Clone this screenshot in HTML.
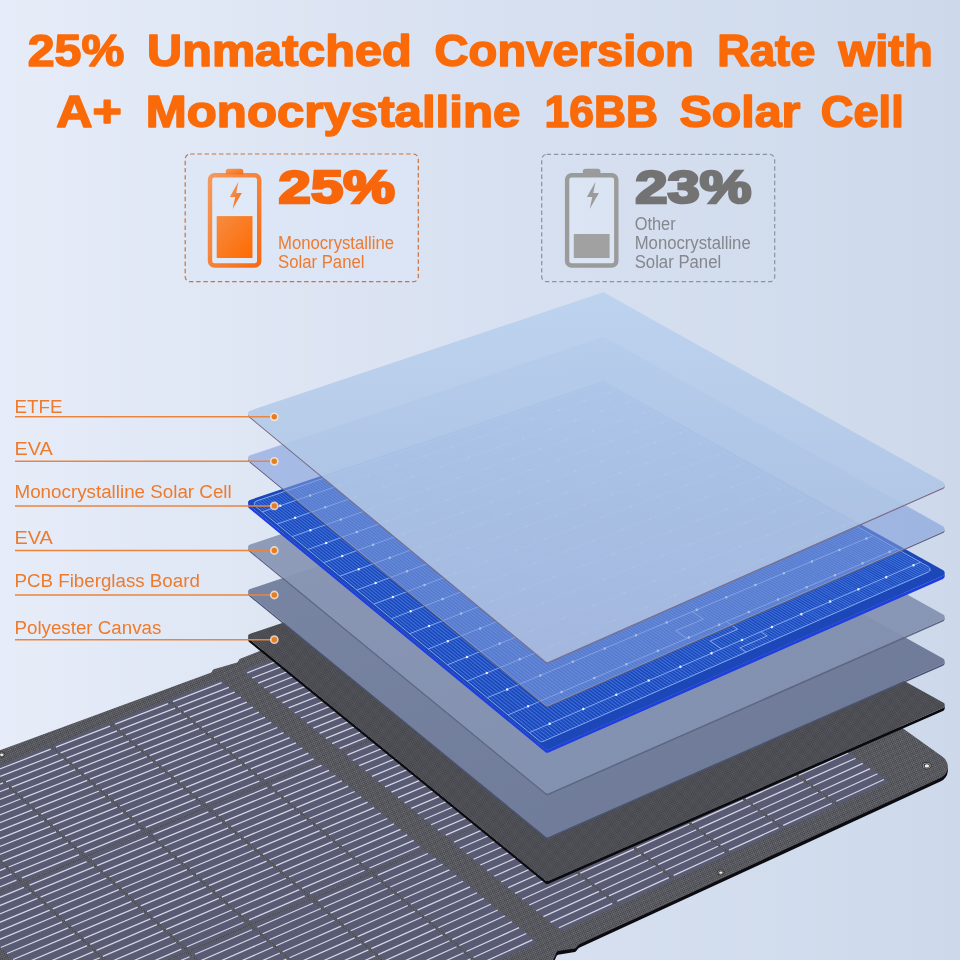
<!DOCTYPE html>
<html lang="en"><head><meta charset="utf-8"><title>25% Unmatched Conversion Rate</title>
<style>html,body{margin:0;padding:0;background:#d8e1f1}body{width:960px;height:960px;overflow:hidden}svg{display:block}</style>
</head><body>
<svg width="960" height="960" viewBox="0 0 960 960">
<defs>
<linearGradient id="bg" x1="0" y1="0" x2="1" y2="0"><stop offset="0" stop-color="#e6ecf8"/><stop offset=".5" stop-color="#d8e1f1"/><stop offset="1" stop-color="#cdd9eb"/></linearGradient>
<linearGradient id="l1" x1="0" y1="0" x2="0" y2="1"><stop offset="0" stop-color="#bad1ee"/><stop offset=".45" stop-color="#b1c8e7"/><stop offset="1" stop-color="#abbddf"/></linearGradient>
<linearGradient id="l4" x1="0" y1="0" x2="1" y2="1"><stop offset="0" stop-color="#8b98b6"/><stop offset="1" stop-color="#8290b0"/></linearGradient>
<linearGradient id="l5" x1="0" y1="0" x2="1" y2="1"><stop offset="0" stop-color="#7a87a4"/><stop offset="1" stop-color="#6c7896"/></linearGradient>
<linearGradient id="ob" x1="0" y1="0" x2="1" y2="1"><stop offset="0" stop-color="#f59a5c"/><stop offset="1" stop-color="#f96a10"/></linearGradient>
<linearGradient id="of" x1="0" y1="0" x2="1" y2="1"><stop offset="0" stop-color="#f68c42"/><stop offset="1" stop-color="#ff6a00"/></linearGradient>
<pattern id="fab" width="2.6" height="2.6" patternUnits="userSpaceOnUse" patternTransform="rotate(-22)"><rect width="2.6" height="2.6" fill="#3b3b41"/><rect width="1.3" height="1.3" fill="#75767d"/><rect x="1.3" y="1.3" width="1.3" height="1.3" fill="#75767d"/></pattern>
<pattern id="fab2" width="2.4" height="2.4" patternUnits="userSpaceOnUse" patternTransform="rotate(-22)"><rect width="2.4" height="2.4" fill="#3e3e44"/><rect width="1.2" height="1.2" fill="#5c5c64"/><rect x="1.2" y="1.2" width="1.2" height="1.2" fill="#5c5c64"/></pattern>
</defs>
<rect width="960" height="960" fill="url(#bg)"/>

<path d="M-5.0 755.6L210.7 676.3A1.0 1.0 0 0 0 211.2 676.0L213.3 673.2A1.0 1.0 0 0 1 213.8 672.8L237.1 666.1A1.0 1.0 0 0 0 237.7 665.7L239.6 662.7A1.0 1.0 0 0 1 240.1 662.3L604.0 518.0L942.9 760.7A12.0 12.0 0 0 1 940.9 781.3L579.2 947.8A2.0 2.0 0 0 0 578.5 948.3L576.0 951.3A2.0 2.0 0 0 1 574.8 952.0L558.1 954.7A2.0 2.0 0 0 0 556.6 955.9L551.0 968.6L-5.0 968.6Z" fill="#0c0c10"/>
<path d="M-5.0 752.0L210.7 672.7A1.0 1.0 0 0 0 211.2 672.4L213.3 669.6A1.0 1.0 0 0 1 213.8 669.2L237.1 662.5A1.0 1.0 0 0 0 237.7 662.1L239.6 659.1A1.0 1.0 0 0 1 240.1 658.7L604.0 514.4L942.9 757.1A12.0 12.0 0 0 1 940.9 777.7L579.2 944.2A2.0 2.0 0 0 0 578.5 944.7L576.0 947.7A2.0 2.0 0 0 1 574.8 948.4L558.1 951.1A2.0 2.0 0 0 0 556.6 952.3L551.0 965.0L-5.0 965.0Z" fill="url(#fab)"/>
<path d="M244.9 670.1L295.2 650.6L298.6 651.1L394.5 727.7L394.2 729.8L343.3 750.6L339.7 750.1L244.5 672.1ZM344.9 752.0L395.9 731.1L399.4 731.7L501.4 813.2L501.3 815.4L449.6 837.7L446.0 837.1L344.6 754.1ZM451.4 839.1L503.0 816.8L506.7 817.4L615.4 904.2L615.3 906.6L563.1 930.5L559.2 929.9L451.2 841.4ZM301.1 648.3L349.8 629.4L353.1 629.9L449.7 705.2L449.5 707.2L400.2 727.4L396.7 726.8L300.8 650.2ZM401.9 728.7L451.2 708.5L454.7 709.0L557.3 789.1L557.2 791.2L507.3 812.8L503.7 812.2L401.7 730.7ZM509.1 814.2L559.0 792.6L562.6 793.2L671.9 878.4L671.9 880.7L621.5 903.8L617.7 903.2L509.0 816.4ZM355.5 627.2L403.3 608.6L406.6 609.1L503.8 683.1L503.7 685.1L455.4 704.8L451.9 704.3L355.3 629.1ZM457.0 706.1L505.4 686.3L508.8 686.9L612.1 765.4L612.0 767.6L563.1 788.7L559.5 788.1L456.9 708.2ZM564.9 790.1L613.8 768.9L617.4 769.5L727.3 853.1L727.3 855.4L677.9 878.0L674.2 877.4L564.8 792.2ZM409.0 606.4L455.9 588.2L459.2 588.7L557.0 661.4L556.9 663.3L509.4 682.7L506.0 682.2L408.8 608.3ZM511.1 684.0L558.6 664.6L562.0 665.1L665.8 742.3L665.8 744.4L617.8 765.1L614.3 764.5L511.0 686.0ZM619.6 766.4L667.6 745.7L671.1 746.2L781.6 828.3L781.7 830.5L733.2 852.7L729.5 852.1L619.6 768.5ZM461.4 586.0L507.5 568.2L510.8 568.6L609.1 640.1L609.0 642.0L562.5 661.0L559.1 660.5L461.3 587.9ZM564.2 662.3L610.7 643.2L614.2 643.7L718.5 719.6L718.5 721.6L671.5 741.9L667.9 741.4L564.1 664.2ZM673.3 743.2L720.3 722.9L723.9 723.4L834.8 804.0L834.9 806.2L787.4 827.9L783.7 827.3L673.3 745.3ZM513.0 566.0L558.2 548.5L561.4 548.9L660.3 619.2L660.3 621.1L614.6 639.7L611.2 639.2L512.8 567.8ZM616.3 641.0L662.0 622.3L665.4 622.8L770.2 697.3L770.2 699.3L724.1 719.2L720.6 718.7L616.2 642.9ZM725.9 720.5L772.0 700.6L775.6 701.1L886.9 780.2L887.1 782.4L840.5 803.6L836.9 803.1L725.9 722.5ZM170.6 699.0L218.2 680.5L221.5 681.0L316.5 759.6L316.3 761.7L268.0 781.4L264.6 780.8L170.3 700.9ZM269.6 782.8L317.9 763.0L321.3 763.6L422.4 847.3L422.3 849.5L373.3 870.6L369.8 870.0L269.4 784.9ZM375.1 872.1L424.0 850.9L427.6 851.6L535.4 940.8L535.4 943.1L485.8 965.8L482.1 965.1L374.9 874.3ZM112.8 721.4L164.6 701.3L168.1 701.8L262.3 781.7L261.9 783.9L209.4 805.4L205.8 804.8L112.3 723.5ZM211.0 806.8L263.6 785.3L267.1 785.8L367.5 870.9L367.2 873.3L313.9 896.3L310.1 895.7L210.6 809.0ZM315.6 897.8L368.9 874.7L372.6 875.3L479.7 966.2L479.5 968.6L425.5 993.3L421.6 992.7L315.3 900.1ZM53.7 744.4L106.5 723.8L110.0 724.4L203.4 805.8L203.0 808.0L149.3 829.9L145.7 829.3L53.2 746.5ZM150.9 831.3L204.6 809.4L208.2 810.0L307.7 896.7L307.4 899.1L252.9 922.6L249.2 922.0L150.5 833.6ZM254.7 924.1L309.1 900.6L312.9 901.2L419.2 993.8L418.9 996.3L363.7 1021.6L359.8 1020.9L254.3 926.5ZM-6.6 767.8L47.3 746.9L50.8 747.4L143.3 830.3L142.8 832.6L88.1 854.9L84.4 854.4L-7.2 769.9ZM89.7 856.4L144.4 834.0L148.1 834.6L246.7 923.0L246.3 925.4L190.7 949.4L187.0 948.8L89.2 858.7ZM192.4 951.0L248.0 927.0L251.8 927.6L357.3 1022.1L357.0 1024.7L300.5 1050.5L296.6 1049.8L192.0 953.4ZM-68.1 791.7L-13.2 770.3L-9.6 770.9L82.0 855.4L81.4 857.7L25.6 880.5L21.9 879.9L-68.8 793.8ZM27.1 882.0L83.0 859.1L86.7 859.7L184.4 949.9L184.0 952.3L127.2 976.9L123.4 976.2L26.6 884.3ZM128.9 978.4L185.7 953.9L189.5 954.5L294.0 1051.0L293.7 1053.6L236.0 1080.0L232.0 1079.3L128.4 981.0ZM-130.9 816.0L-74.8 794.2L-71.2 794.8L19.4 880.9L18.8 883.3L-38.2 906.6L-41.9 906.0L-131.6 818.3ZM-36.7 908.1L20.4 884.8L24.0 885.4L120.8 977.3L120.3 979.8L62.3 1004.9L58.5 1004.2L-37.3 910.5ZM64.0 1006.5L122.0 981.4L125.8 982.1L229.4 1080.5L228.9 1083.2L170.0 1110.1L166.0 1109.4L63.4 1009.1Z" fill="#585b73"/>
<path d="M247.3 672.8L298.7 652.8M252.2 678.1L305.9 657.2M258.2 683.1L311.9 662.0M264.2 688.0L318.0 666.9M270.3 693.0L324.1 671.7M276.3 697.9L330.2 676.6M282.4 702.9L336.4 681.5M288.6 707.9L342.5 686.5M294.7 713.0L348.7 691.4M300.9 718.0L354.9 696.4M307.1 723.1L361.2 701.4M313.3 728.2L367.4 706.4M319.5 733.3L373.7 711.4M325.8 738.4L380.0 716.4M332.1 743.6L386.4 721.5M339.6 748.3L391.6 727.0M347.5 754.8L399.6 733.5M352.8 760.5L407.2 738.1M359.1 765.7L413.6 743.3M365.6 771.0L420.1 748.4M372.0 776.3L426.6 753.6M378.5 781.6L433.1 758.8M385.0 786.9L439.6 764.0M391.5 792.2L446.2 769.3M398.0 797.6L452.7 774.5M404.6 802.9L459.4 779.8M411.2 808.3L466.0 785.1M417.8 813.8L472.7 790.4M424.4 819.2L479.3 795.8M431.1 824.7L486.1 801.1M437.8 830.1L492.8 806.5M445.7 835.1L498.4 812.4M454.2 842.1L507.0 819.3M459.8 848.2L515.0 824.2M466.6 853.8L521.8 829.7M473.5 859.3L528.7 835.2M480.3 865.0L535.6 840.7M487.2 870.6L542.5 846.3M494.2 876.3L549.5 851.8M501.1 882.0L556.5 857.4M508.1 887.7L563.5 863.0M515.1 893.4L570.5 868.6M522.1 899.2L577.6 874.3M529.2 905.0L584.7 880.0M536.3 910.8L591.8 885.7M543.4 916.6L599.0 891.4M550.5 922.4L606.2 897.1M558.9 927.8L612.2 903.4M303.6 650.9L353.3 631.6M308.5 656.1L360.5 635.9M314.6 661.0L366.6 640.6M320.6 665.8L372.7 645.4M326.7 670.7L378.8 650.2M332.9 675.6L385.0 655.0M339.0 680.5L391.2 659.8M345.2 685.4L397.4 664.7M351.4 690.4L403.6 669.5M357.6 695.3L409.9 674.4M363.8 700.3L416.2 679.3M370.1 705.3L422.5 684.2M376.4 710.3L428.8 689.1M382.7 715.4L435.2 694.1M389.0 720.4L441.5 699.1M396.5 725.0L446.8 704.5M404.6 731.4L454.9 710.8M409.9 737.0L462.5 715.4M416.3 742.2L469.0 720.4M422.8 747.3L475.5 725.5M429.2 752.5L482.0 730.6M435.8 757.7L488.5 735.7M442.3 762.9L495.1 740.8M448.9 768.1L501.7 746.0M455.4 773.4L508.3 751.1M462.1 778.7L515.0 756.3M468.7 784.0L521.7 761.5M475.4 789.3L528.4 766.8M482.0 794.6L535.1 772.0M488.8 800.0L541.9 777.3M495.5 805.4L548.6 782.6M503.4 810.3L554.3 788.3M512.0 817.1L562.9 795.1M517.7 823.1L570.9 799.9M524.5 828.5L577.8 805.3M531.4 834.0L584.7 810.7M538.3 839.5L591.7 816.1M545.2 845.1L598.7 821.5M552.2 850.6L605.7 827.0M559.2 856.2L612.7 832.5M566.2 861.8L619.8 838.0M573.3 867.4L626.8 843.5M580.3 873.1L634.0 849.1M587.5 878.7L641.1 854.6M594.6 884.4L648.3 860.2M601.7 890.2L655.5 865.8M608.9 895.9L662.7 871.5M617.3 901.1L668.8 877.6M358.1 629.7L406.9 610.7M363.0 634.9L414.0 615.0M369.1 639.6L420.2 619.6M375.3 644.4L426.3 624.3M381.4 649.2L432.5 629.0M387.6 654.0L438.7 633.8M393.8 658.8L445.0 638.5M400.0 663.6L451.2 643.3M406.2 668.5L457.5 648.0M412.5 673.4L463.8 652.8M418.8 678.3L470.1 657.6M425.1 683.2L476.5 662.5M431.4 688.1L482.8 667.3M437.8 693.0L489.2 672.2M444.1 698.0L495.6 677.1M451.6 702.5L501.0 682.4M459.7 708.8L509.1 688.6M465.1 714.3L516.7 693.1M471.6 719.4L523.2 698.1M478.1 724.4L529.8 703.0M484.6 729.5L536.3 708.0M491.2 734.6L542.9 713.0M497.7 739.7L549.5 718.1M504.3 744.9L556.2 723.1M511.0 750.0L562.8 728.2M517.6 755.2L569.5 733.3M524.3 760.4L576.3 738.4M531.0 765.6L583.0 743.5M537.7 770.9L589.8 748.7M544.5 776.1L596.6 753.9M551.3 781.4L603.4 759.0M559.2 786.2L609.1 764.7M567.8 792.9L617.8 771.3M573.6 798.8L625.8 776.1M580.5 804.1L632.7 781.4M587.4 809.5L639.7 786.7M594.3 814.9L646.7 792.0M601.3 820.4L653.7 797.3M608.3 825.8L660.7 802.7M615.4 831.3L667.8 808.1M622.4 836.8L674.9 813.5M629.5 842.3L682.0 818.9M636.6 847.9L689.1 824.3M643.8 853.4L696.3 829.8M650.9 859.0L703.5 835.3M658.1 864.6L710.8 840.8M665.4 870.2L718.0 846.3M673.7 875.4L724.2 852.3M411.5 608.9L459.4 590.3M416.6 614.0L466.6 594.5M422.7 618.7L472.8 599.0M428.9 623.3L479.0 603.7M435.1 628.0L485.2 608.3M441.3 632.8L491.5 612.9M447.5 637.5L497.8 617.6M453.8 642.2L504.0 622.3M460.0 647.0L510.4 626.9M466.3 651.8L516.7 631.7M472.7 656.6L523.0 636.4M479.0 661.4L529.4 641.1M485.4 666.3L535.8 645.9M491.8 671.1L542.3 650.7M498.2 676.0L548.7 655.5M505.7 680.5L554.1 660.7M513.9 686.7L562.3 666.8M519.3 692.0L569.9 671.2M525.8 697.0L576.5 676.1M532.3 702.0L583.0 681.0M538.9 707.0L589.6 685.9M545.5 712.0L596.3 690.8M552.1 717.0L602.9 695.8M558.8 722.1L609.6 700.7M565.4 727.1L616.3 705.7M572.1 732.2L623.0 710.7M578.8 737.3L629.8 715.7M585.6 742.4L636.6 720.8M592.3 747.6L643.4 725.8M599.1 752.8L650.2 730.9M606.0 757.9L657.0 736.0M613.9 762.7L662.9 741.6M622.6 769.3L671.6 748.0M628.4 775.0L679.6 752.7M635.3 780.2L686.5 757.9M642.3 785.5L693.5 763.1M649.3 790.8L700.6 768.3M656.3 796.2L707.6 773.6M663.3 801.5L714.7 778.8M670.4 806.9L721.8 784.1M677.5 812.3L728.9 789.4M684.6 817.7L736.1 794.7M691.8 823.1L743.2 800.1M698.9 828.6L750.5 805.4M706.1 834.1L757.7 810.8M713.4 839.6L765.0 816.2M720.6 845.1L772.3 821.6M729.0 850.1L778.5 827.6M464.0 588.5L511.1 570.2M469.1 593.5L518.3 574.3M475.3 598.1L524.5 578.8M481.5 602.7L530.7 583.4M487.7 607.3L537.0 587.9M494.0 611.9L543.3 592.5M500.2 616.6L549.6 597.0M506.5 621.3L555.9 601.6M512.8 626.0L562.2 606.2M519.2 630.7L568.6 610.9M525.5 635.4L575.0 615.5M531.9 640.1L581.4 620.2M538.3 644.9L587.9 624.9M544.8 649.7L594.3 629.6M551.2 654.4L600.8 634.3M558.8 658.8L606.3 639.4M567.0 664.9L614.5 645.4M572.4 670.2L622.1 649.8M579.0 675.1L628.7 654.5M585.6 679.9L635.3 659.3M592.2 684.8L642.0 664.2M598.8 689.8L648.6 669.0M605.4 694.7L655.3 673.9M612.1 699.7L662.0 678.7M618.8 704.6L668.7 683.6M625.6 709.6L675.5 688.6M632.3 714.7L682.3 693.5M639.1 719.7L689.1 698.4M645.9 724.7L695.9 703.4M652.7 729.8L702.8 708.4M659.6 734.9L709.7 713.4M667.5 739.6L715.6 718.9M676.2 746.0L724.3 725.2M682.1 751.6L732.3 729.8M689.1 756.8L739.3 734.9M696.1 762.0L746.3 740.0M703.1 767.2L753.4 745.1M710.1 772.5L760.5 750.3M717.2 777.7L767.6 755.5M724.3 783.0L774.7 760.6M731.5 788.3L781.9 765.8M738.6 793.6L789.1 771.1M745.8 798.9L796.3 776.3M753.0 804.3L803.5 781.6M760.2 809.7L810.8 786.8M767.5 815.1L818.1 792.2M774.8 820.5L825.4 797.5M783.2 825.4L831.7 803.3M515.6 568.5L561.8 550.5M520.7 573.4L569.0 554.5M526.9 577.9L575.2 559.0M533.2 582.4L581.5 563.4M539.4 586.9L587.8 567.9M545.7 591.5L594.1 572.4M552.0 596.1L600.4 576.9M558.3 600.7L606.8 581.4M564.7 605.3L613.2 585.9M571.1 609.9L619.6 590.5M577.5 614.5L626.0 595.0M583.9 619.2L632.5 599.6M590.3 623.9L638.9 604.2M596.8 628.6L645.4 608.8M603.3 633.3L651.9 613.5M610.8 637.6L657.5 618.5M619.1 643.6L665.7 624.4M624.6 648.7L673.4 628.7M631.2 653.5L680.0 633.4M637.8 658.3L686.6 638.1M644.4 663.1L693.3 642.9M651.1 668.0L700.0 647.6M657.8 672.8L706.7 652.4M664.5 677.7L713.4 657.2M671.2 682.6L720.2 662.0M678.0 687.5L727.0 666.8M684.8 692.4L733.8 671.7M691.6 697.4L740.7 676.5M698.4 702.3L747.5 681.4M705.3 707.3L754.4 686.3M712.2 712.3L761.3 691.2M720.1 716.9L767.2 696.6M728.9 723.2L776.0 702.8M734.8 728.8L784.1 707.4M741.8 733.8L791.1 712.4M748.8 738.9L798.1 717.4M755.9 744.1L805.2 722.4M763.0 749.2L812.3 727.5M770.1 754.4L819.5 732.5M777.2 759.5L826.6 737.6M784.4 764.7L833.8 742.7M791.6 769.9L841.0 747.9M798.8 775.2L848.3 753.0M806.0 780.4L855.6 758.2M813.3 785.7L862.8 763.4M820.6 791.0L870.2 768.6M827.9 796.3L877.5 773.8M836.3 801.2L883.9 779.5M173.0 701.7L221.7 682.7M177.9 707.1L228.8 687.3M183.8 712.1L234.7 692.2M189.8 717.2L240.8 697.2M195.8 722.3L246.8 702.2M201.8 727.4L252.9 707.2M207.8 732.5L258.9 712.2M213.9 737.6L265.0 717.3M220.0 742.8L271.2 722.4M226.1 748.0L277.3 727.5M232.2 753.1L283.5 732.6M238.4 758.4L289.7 737.7M244.6 763.6L295.9 742.8M250.8 768.8L302.2 748.0M257.0 774.1L308.4 753.2M264.3 779.0L313.6 758.8M272.2 785.7L321.6 765.4M277.4 791.5L329.0 770.3M283.8 796.8L335.4 775.5M290.1 802.2L341.8 780.8M296.5 807.6L348.2 786.1M302.9 813.0L354.7 791.5M309.3 818.5L361.1 796.8M315.8 824.0L367.6 802.2M322.3 829.4L374.2 807.6M328.8 835.0L380.7 813.0M335.3 840.5L387.3 818.5M341.9 846.0L393.9 823.9M348.4 851.6L400.5 829.4M355.1 857.2L407.2 834.9M361.7 862.8L413.8 840.4M369.5 868.0L419.4 846.5M377.9 875.1L427.9 853.5M383.5 881.3L435.8 858.6M390.3 887.0L442.6 864.2M397.0 892.8L449.4 869.9M403.8 898.5L456.3 875.5M410.7 904.3L463.1 881.2M417.5 910.1L470.0 886.9M424.4 916.0L477.0 892.7M431.3 921.8L483.9 898.4M438.3 927.7L490.9 904.2M445.2 933.6L497.9 910.0M452.2 939.6L505.0 915.8M459.3 945.5L512.0 921.7M466.3 951.5L519.1 927.6M473.4 957.5L526.3 933.5M481.7 963.0L532.3 939.9M115.2 724.2L168.1 703.6M119.9 729.7L175.2 708.1M125.8 734.9L181.2 713.2M131.7 740.0L187.1 718.2M137.6 745.2L193.1 723.3M143.6 750.4L199.1 728.4M149.6 755.6L205.2 733.5M155.6 760.8L211.2 738.7M161.6 766.1L217.3 743.8M167.7 771.3L223.4 749.0M173.7 776.6L229.5 754.2M179.8 781.9L235.7 759.4M186.0 787.3L241.9 764.7M192.1 792.6L248.1 769.9M198.3 798.0L254.3 775.2M205.7 802.9L259.4 781.0M213.5 809.7L267.3 787.7M218.6 815.7L274.7 792.6M224.9 821.1L281.1 797.9M231.2 826.6L287.4 803.3M237.5 832.1L293.8 808.7M243.8 837.6L300.2 814.2M250.2 843.2L306.6 819.6M256.6 848.8L313.1 825.1M263.0 854.4L319.6 830.6M269.5 860.0L326.1 836.1M276.0 865.6L332.6 841.6M282.5 871.3L339.1 847.2M289.0 877.0L345.7 852.8M295.6 882.7L352.3 858.4M302.1 888.4L359.0 864.0M310.0 893.6L364.4 870.2M318.3 900.9L372.9 877.3M323.8 907.3L380.8 882.5M330.5 913.1L387.5 888.2M337.2 918.9L394.3 894.0M344.0 924.8L401.1 899.7M350.7 930.7L407.9 905.5M357.6 936.6L414.8 911.4M364.4 942.6L421.7 917.2M371.3 948.6L428.6 923.1M378.1 954.6L435.5 928.9M385.1 960.6L442.5 934.9M392.0 966.6L449.5 940.8M399.0 972.7L456.5 946.8M406.0 978.8L463.6 952.7M413.0 984.9L470.6 958.8M421.3 990.5L476.6 965.3M56.0 747.2L110.0 726.2M60.6 752.9L117.1 730.8M66.5 758.1L123.0 736.0M72.3 763.3L128.9 741.1M78.2 768.6L134.8 746.3M84.1 773.9L140.8 751.5M90.0 779.2L146.8 756.7M96.0 784.5L152.8 761.9M102.0 789.9L158.8 767.2M108.0 795.2L164.8 772.5M114.0 800.6L170.9 777.8M120.0 806.0L177.0 783.1M126.1 811.5L183.1 788.4M132.2 816.9L189.3 793.8M138.3 822.4L195.4 799.2M145.7 827.4L200.4 805.0M153.4 834.3L208.3 811.9M158.4 840.4L215.7 816.8M164.6 846.0L222.0 822.3M170.9 851.6L228.3 827.8M177.2 857.2L234.6 833.3M183.5 862.8L241.0 838.8M189.8 868.5L247.4 844.4M196.1 874.1L253.8 850.0M202.5 879.8L260.2 855.6M208.9 885.6L266.6 861.2M215.3 891.3L273.1 866.8M221.8 897.1L279.6 872.5M228.2 902.9L286.1 878.2M234.7 908.7L292.7 883.9M241.3 914.6L299.3 889.6M249.1 919.9L304.7 895.9M257.4 927.3L313.0 903.2M262.7 933.8L320.9 908.5M269.4 939.7L327.6 914.3M276.0 945.7L334.3 920.2M282.7 951.7L341.1 926.1M289.5 957.7L347.9 932.0M296.2 963.7L354.7 937.9M303.0 969.8L361.5 943.9M309.8 975.9L368.4 949.9M316.7 982.0L375.2 955.9M323.5 988.2L382.2 961.9M330.4 994.3L389.1 968.0M337.3 1000.5L396.1 974.0M344.3 1006.8L403.1 980.1M351.3 1013.0L410.1 986.3M359.5 1018.7L416.0 993.0M-4.3 770.6L50.7 749.2M0.2 776.4L57.8 754.0M6.0 781.8L63.6 759.2M11.8 787.1L69.5 764.4M17.6 792.5L75.3 769.7M23.4 797.8L81.2 775.0M29.3 803.3L87.2 780.3M35.2 808.7L93.1 785.7M41.1 814.1L99.1 791.0M47.1 819.6L105.1 796.4M53.0 825.1L111.1 801.8M59.0 830.6L117.1 807.2M65.0 836.1L123.2 812.6M71.1 841.7L129.3 818.1M77.1 847.3L135.4 823.6M84.4 852.4L140.3 829.6M92.1 859.5L148.1 836.5M97.0 865.6L155.5 841.6M103.2 871.3L161.7 847.2M109.4 877.0L168.0 852.8M115.6 882.7L174.2 858.4M121.8 888.5L180.5 864.0M128.1 894.2L186.9 869.7M134.4 900.0L193.2 875.4M140.7 905.9L199.6 881.1M147.0 911.7L206.0 886.8M153.4 917.6L212.4 892.6M159.8 923.4L218.8 898.3M166.2 929.4L225.3 904.1M172.6 935.3L231.8 910.0M179.1 941.2L238.3 915.8M186.9 946.7L243.6 922.2M195.1 954.3L251.9 929.7M200.4 960.8L259.8 935.0M207.0 966.9L266.4 941.0M213.6 973.0L273.1 947.0M220.2 979.1L279.8 953.0M226.9 985.3L286.5 959.0M233.6 991.4L293.3 965.1M240.3 997.6L300.0 971.1M247.1 1003.8L306.9 977.2M253.8 1010.1L313.7 983.4M260.6 1016.4L320.6 989.5M267.5 1022.7L327.4 995.7M274.3 1029.0L334.4 1001.9M281.2 1035.3L341.3 1008.1M288.2 1041.7L348.3 1014.4M296.4 1047.5L354.0 1021.2M-65.9 794.6L-9.7 772.7M-61.4 800.5L-2.7 777.6M-55.7 805.9L3.1 782.9M-50.0 811.3L8.9 788.2M-44.2 816.8L14.7 793.6M-38.4 822.3L20.5 799.0M-32.6 827.8L26.4 804.4M-26.8 833.3L32.3 809.8M-21.0 838.9L38.2 815.3M-15.1 844.5L44.1 820.8M-9.2 850.1L50.1 826.3M-3.3 855.7L56.1 831.8M2.7 861.3L62.1 837.3M8.7 867.0L68.1 842.9M14.7 872.7L74.2 848.5M21.9 877.9L79.0 854.6M29.6 885.1L86.7 861.7M34.4 891.4L94.1 866.9M40.5 897.2L100.2 872.5M46.6 903.0L106.4 878.2M52.7 908.8L112.6 884.0M58.9 914.7L118.9 889.7M65.1 920.6L125.1 895.5M71.3 926.5L131.4 901.3M77.6 932.4L137.7 907.1M83.9 938.4L144.0 913.0M90.2 944.3L150.4 918.8M96.5 950.3L156.8 924.7M102.8 956.4L163.2 930.6M109.2 962.4L169.6 936.6M115.6 968.5L176.1 942.5M123.4 974.1L181.3 949.1M131.5 981.8L189.6 956.7M136.7 988.5L197.4 962.2M143.2 994.7L204.0 968.2M149.8 1000.9L210.6 974.3M156.3 1007.2L217.2 980.4M162.9 1013.4L223.9 986.6M169.6 1019.7L230.6 992.8M176.2 1026.0L237.3 999.0M182.9 1032.4L244.0 1005.2M189.6 1038.8L250.8 1011.4M196.4 1045.2L257.6 1017.7M203.2 1051.6L264.4 1024.0M210.0 1058.0L271.3 1030.4M216.8 1064.5L278.2 1036.7M223.7 1071.0L285.1 1043.1M231.9 1077.0L290.8 1050.1M-128.7 819.0L-71.4 796.7M-124.3 825.0L-64.4 801.6M-118.7 830.5L-58.7 807.1M-113.0 836.1L-53.0 812.5M-107.3 841.7L-47.2 818.0M-101.6 847.3L-41.4 823.5M-95.9 852.9L-35.6 829.0M-90.1 858.5L-29.8 834.5M-84.3 864.2L-23.9 840.1M-78.5 869.9L-18.1 845.7M-72.7 875.6L-12.2 851.3M-66.8 881.3L-6.3 856.9M-60.9 887.0L-0.3 862.5M-55.0 892.8L5.7 868.2M-49.1 898.6L11.6 873.9M-41.8 903.9L16.4 880.2M-34.3 911.3L24.0 887.4M-29.6 917.7L31.3 892.6M-23.6 923.6L37.4 898.4M-17.5 929.5L43.6 904.2M-11.4 935.5L49.7 910.1M-5.3 941.5L55.9 916.0M0.8 947.5L62.1 921.8M7.0 953.5L68.3 927.8M13.1 959.5L74.5 933.7M19.3 965.6L80.8 939.6M25.6 971.7L87.1 945.6M31.8 977.8L93.4 951.6M38.1 984.0L99.8 957.7M44.4 990.2L106.2 963.7M50.8 996.4L112.6 969.8M58.5 1002.0L117.7 976.5M66.5 1009.9L125.8 984.2M71.6 1016.8L133.6 989.8M78.1 1023.1L140.1 996.0M84.6 1029.4L146.7 1002.3M91.1 1035.8L153.3 1008.5M97.6 1042.2L159.9 1014.8M104.2 1048.6L166.5 1021.1M110.8 1055.1L173.2 1027.4M117.4 1061.5L179.8 1033.8M124.0 1068.0L186.6 1040.1M130.7 1074.6L193.3 1046.5M137.4 1081.1L200.1 1053.0M144.2 1087.7L206.9 1059.4M150.9 1094.4L213.7 1065.9M157.7 1101.0L220.6 1072.4M165.9 1107.1L226.1 1079.6" stroke="#d3d4e0" stroke-width="1.25" fill="none"/>
<ellipse cx="926.7" cy="765.7" rx="4.4" ry="3.3" fill="#9b9b96" stroke="#26262a" stroke-width=".8"/>
<ellipse cx="926.7" cy="765.7" rx="3.0" ry="2.2" fill="#303034"/>
<ellipse cx="926.9" cy="765.9" rx="2.2" ry="1.6" fill="#f0f0f2"/>
<ellipse cx="720.6" cy="872.4" rx="3.4" ry="2.6" fill="#9b9b96" stroke="#26262a" stroke-width=".8"/>
<ellipse cx="720.6" cy="872.4" rx="2.3" ry="1.7" fill="#303034"/>
<ellipse cx="720.8" cy="872.6" rx="1.7" ry="1.2" fill="#f0f0f2"/>
<ellipse cx="1.5" cy="754.5" rx="3.4" ry="2.6" fill="#9b9b96" stroke="#26262a" stroke-width=".8"/>
<ellipse cx="1.5" cy="754.5" rx="2.3" ry="1.7" fill="#303034"/>
<ellipse cx="1.7" cy="754.7" rx="1.7" ry="1.2" fill="#f0f0f2"/>
<path d="M944.7 705.4L944.4 706.5L943.8 707.4L942.9 708.0L548.6 880.8L548.1 881.0L547.5 881.0L547.0 881.0L546.4 880.9L545.9 880.7L545.5 880.4L249.1 638.9L248.4 638.1L248.1 637.1L248.1 640.1L248.4 641.1L249.1 641.9L545.5 883.4L545.9 883.7L546.4 883.9L547.0 884.0L547.5 884.0L548.1 884.0L548.6 883.8L942.9 711.0L943.8 710.4L944.4 709.5L944.7 708.4Z" fill="#0b0b0e"/>
<path d="M249.1 638.9L248.4 638.1L248.1 637.1L248.1 636.0L248.4 635.0L249.1 634.2L250.1 633.7L602.5 515.1L602.9 515.0L603.3 515.0L603.7 515.0L604.1 515.1L604.5 515.2L604.9 515.4L943.1 702.6L944.0 703.3L944.5 704.3L944.7 705.4L944.4 706.5L943.8 707.4L942.9 708.0L548.6 880.8L548.1 881.0L547.5 881.0L547.0 881.0L546.4 880.9L545.9 880.7L545.5 880.4Z" fill="url(#fab2)"/>
<path d="M944.7 661.3L944.4 662.4L943.8 663.3L942.9 663.9L548.6 837.0L548.1 837.2L547.5 837.2L547.0 837.2L546.4 837.1L545.9 836.9L545.5 836.6L249.1 594.3L248.4 593.5L248.1 592.5L248.1 594.3L248.4 595.3L249.1 596.1L545.5 838.4L545.9 838.7L546.4 838.9L547.0 839.0L547.5 839.0L548.1 839.0L548.6 838.8L942.9 665.7L943.8 665.1L944.4 664.2L944.7 663.1Z" fill="#4a5470"/>
<path d="M249.1 594.3L248.4 593.5L248.1 592.5L248.1 591.4L248.4 590.4L249.1 589.6L250.1 589.1L602.5 470.6L602.9 470.5L603.3 470.5L603.7 470.5L604.1 470.6L604.5 470.7L604.9 470.9L943.1 658.5L944.0 659.2L944.5 660.2L944.7 661.3L944.4 662.4L943.8 663.3L942.9 663.9L548.6 837.0L548.1 837.2L547.5 837.2L547.0 837.2L546.4 837.1L545.9 836.9L545.5 836.6Z" fill="url(#l5)"/>
<path d="M944.7 617.2L944.4 618.3L943.8 619.2L942.9 619.8L548.6 793.2L548.1 793.4L547.5 793.4L547.0 793.4L546.4 793.3L545.9 793.1L545.5 792.8L249.1 549.7L248.4 548.9L248.1 547.9L248.1 549.7L248.4 550.7L249.1 551.5L545.5 794.6L545.9 794.9L546.4 795.1L547.0 795.2L547.5 795.2L548.1 795.2L548.6 795.0L942.9 621.6L943.8 621.0L944.4 620.1L944.7 619.0Z" fill="#5d6784"/>
<path d="M249.1 549.7L248.4 548.9L248.1 547.9L248.1 546.8L248.4 545.8L249.1 545.0L250.1 544.5L602.5 426.1L602.9 426.0L603.3 426.0L603.7 426.0L604.1 426.1L604.5 426.2L604.9 426.4L943.1 614.4L944.0 615.1L944.5 616.1L944.7 617.2L944.4 618.3L943.8 619.2L942.9 619.8L548.6 793.2L548.1 793.4L547.5 793.4L547.0 793.4L546.4 793.3L545.9 793.1L545.5 792.8Z" fill="url(#l4)" fill-opacity=".94"/>
<path d="M944.7 573.1L944.4 574.2L943.8 575.1L942.9 575.7L548.6 749.4L548.1 749.6L547.5 749.6L547.0 749.6L546.4 749.5L545.9 749.3L545.5 749.0L249.1 505.1L248.4 504.3L248.0 503.3L248.0 506.5L248.4 507.5L249.1 508.3L545.5 752.2L545.9 752.5L546.4 752.7L547.0 752.8L547.5 752.8L548.1 752.8L548.6 752.6L942.9 578.9L943.8 578.3L944.4 577.4L944.7 576.3Z" fill="#1d3fe0"/>
<path d="M249.1 505.1L248.4 504.3L248.0 503.3L248.0 502.2L248.4 501.2L249.1 500.4L250.0 499.9L602.5 381.6L602.9 381.5L603.3 381.5L603.7 381.5L604.1 381.6L604.5 381.7L604.9 381.9L943.2 570.3L944.0 571.0L944.5 572.0L944.7 573.1L944.4 574.2L943.8 575.1L942.9 575.7L548.6 749.4L548.1 749.6L547.5 749.6L547.0 749.6L546.4 749.5L545.9 749.3L545.5 749.0Z" fill="#1c47b8"/>
<path d="M253.8 501.9L544.2 741.0M256.4 501.0L547.1 739.7M259.0 500.1L550.1 738.4M261.6 499.3L553.0 737.1M264.1 498.4L556.0 735.8M266.7 497.5L558.9 734.5M269.3 496.6L561.8 733.2M271.9 495.8L564.8 731.9M274.4 494.9L567.7 730.6M277.0 494.0L570.6 729.4M279.5 493.2L573.5 728.1M282.1 492.3L576.4 726.8M284.7 491.4L579.3 725.5M287.2 490.6L582.2 724.3M289.7 489.7L585.1 723.0M292.3 488.8L587.9 721.7M294.8 488.0L590.8 720.5M297.4 487.1L593.7 719.2M299.9 486.3L596.6 717.9M302.4 485.4L599.4 716.7M304.9 484.5L602.3 715.4M307.4 483.7L605.1 714.2M310.0 482.8L608.0 712.9M312.5 482.0L610.8 711.7M315.0 481.1L613.7 710.4M317.5 480.3L616.5 709.2M320.0 479.4L619.3 707.9M322.5 478.6L622.1 706.7M325.0 477.7L625.0 705.4M327.5 476.9L627.8 704.2M330.0 476.0L630.6 703.0M332.4 475.2L633.4 701.7M334.9 474.4L636.2 700.5M337.4 473.5L639.0 699.3M339.9 472.7L641.8 698.0M342.3 471.8L644.5 696.8M344.8 471.0L647.3 695.6M347.3 470.2L650.1 694.4M349.7 469.3L652.9 693.2M352.2 468.5L655.6 691.9M354.6 467.7L658.4 690.7M357.1 466.8L661.1 689.5M359.5 466.0L663.9 688.3M362.0 465.2L666.6 687.1M364.4 464.3L669.4 685.9M366.9 463.5L672.1 684.7M369.3 462.7L674.9 683.5M371.7 461.9L677.6 682.3M374.1 461.0L680.3 681.1M376.6 460.2L683.0 679.9M379.0 459.4L685.7 678.7M381.4 458.6L688.4 677.5M383.8 457.7L691.2 676.3M386.2 456.9L693.9 675.1M388.6 456.1L696.6 673.9M391.0 455.3L699.2 672.8M393.4 454.5L701.9 671.6M395.8 453.7L704.6 670.4M398.2 452.8L707.3 669.2M400.6 452.0L710.0 668.0M403.0 451.2L712.6 666.9M405.4 450.4L715.3 665.7M407.8 449.6L718.0 664.5M410.1 448.8L720.6 663.4M412.5 448.0L723.3 662.2M414.9 447.2L725.9 661.0M417.3 446.4L728.6 659.9M419.6 445.6L731.2 658.7M422.0 444.8L733.8 657.5M424.3 444.0L736.5 656.4M426.7 443.2L739.1 655.2M429.0 442.4L741.7 654.1M431.4 441.6L744.3 652.9M433.7 440.8L746.9 651.8M436.1 440.0L749.5 650.6M438.4 439.2L752.1 649.5M440.8 438.4L754.7 648.3M443.1 437.6L757.3 647.2M445.4 436.8L759.9 646.1M447.7 436.0L762.5 644.9M450.1 435.2L765.1 643.8M452.4 434.4L767.7 642.6M454.7 433.7L770.3 641.5M457.0 432.9L772.8 640.4M459.3 432.1L775.4 639.3M461.6 431.3L777.9 638.1M463.9 430.5L780.5 637.0M466.2 429.7L783.1 635.9M468.5 429.0L785.6 634.8M470.8 428.2L788.2 633.6M473.1 427.4L790.7 632.5M475.4 426.6L793.2 631.4M477.7 425.8L795.8 630.3M480.0 425.1L798.3 629.2M482.3 424.3L800.8 628.1M484.5 423.5L803.3 627.0M486.8 422.7L805.9 625.9M489.1 422.0L808.4 624.7M491.4 421.2L810.9 623.6M493.6 420.4L813.4 622.5M495.9 419.7L815.9 621.4M498.1 418.9L818.4 620.3M500.4 418.1L820.9 619.2M502.7 417.4L823.4 618.2M504.9 416.6L825.8 617.1M507.2 415.8L828.3 616.0M509.4 415.1L830.8 614.9M511.6 414.3L833.3 613.8M513.9 413.6L835.7 612.7M516.1 412.8L838.2 611.6M518.3 412.0L840.7 610.5M520.6 411.3L843.1 609.5M522.8 410.5L845.6 608.4M525.0 409.8L848.0 607.3M527.2 409.0L850.5 606.2M529.5 408.3L852.9 605.2M531.7 407.5L855.3 604.1M533.9 406.8L857.8 603.0M536.1 406.0L860.2 601.9M538.3 405.3L862.6 600.9M540.5 404.5L865.0 599.8M542.7 403.8L867.5 598.8M544.9 403.0L869.9 597.7M547.1 402.3L872.3 596.6M549.3 401.5L874.7 595.6M551.5 400.8L877.1 594.5M553.7 400.0L879.5 593.5M555.9 399.3L881.9 592.4M558.0 398.6L884.3 591.4M560.2 397.8L886.7 590.3M562.4 397.1L889.0 589.3M564.6 396.3L891.4 588.2M566.7 395.6L893.8 587.2M568.9 394.9L896.2 586.1M571.1 394.1L898.5 585.1M573.2 393.4L900.9 584.0M575.4 392.7L903.3 583.0M577.5 391.9L905.6 582.0M579.7 391.2L908.0 580.9M581.8 390.5L910.3 579.9M584.0 389.7L912.7 578.9M586.1 389.0L915.0 577.8M588.3 388.3L917.3 576.8M590.4 387.6L919.7 575.8M592.5 386.8L922.0 574.7M594.7 386.1L924.3 573.7M596.8 385.4L926.7 572.7M598.9 384.7L929.0 571.7M601.1 383.9L931.3 570.7" stroke="#4b82ea" stroke-width="1.05" stroke-opacity=".72" fill="none"/>
<path d="M262.2 511.9L616.0 390.4M277.0 524.1L633.2 400.2M292.2 536.6L650.8 410.1M307.7 549.5L668.8 420.2M323.7 562.6L687.2 430.6M340.0 576.1L706.0 441.2M356.8 590.0L725.2 452.0M374.0 604.1L744.9 463.2M391.6 618.7L765.0 474.5M409.7 633.7L785.6 486.2M428.3 649.0L806.8 498.1M447.5 664.8L828.4 510.3M467.1 681.1L850.6 522.8M487.3 697.7L873.3 535.6M508.1 714.9L896.6 548.8M529.5 732.5L920.5 562.2" stroke="#8fb3f3" stroke-width="1" stroke-opacity=".85" fill="none"/>
<path d="M280.2 505.7h.01M310.1 495.4h.01M339.6 485.3h.01M368.5 475.4h.01M397.0 465.6h.01M425.1 456.0h.01M452.7 446.5h.01M479.8 437.2h.01M506.6 428.0h.01M532.9 419.0h.01M558.9 410.1h.01M584.4 401.3h.01M609.6 392.7h.01M295.1 517.8h.01M325.3 507.3h.01M355.0 497.0h.01M384.1 486.8h.01M412.8 476.8h.01M441.1 467.0h.01M468.9 457.3h.01M496.2 447.8h.01M523.2 438.5h.01M549.7 429.2h.01M575.7 420.2h.01M601.4 411.2h.01M626.7 402.4h.01M310.4 530.2h.01M340.8 519.5h.01M370.7 508.9h.01M400.1 498.5h.01M429.0 488.3h.01M457.5 478.3h.01M485.5 468.4h.01M513.0 458.7h.01M540.1 449.2h.01M566.7 439.7h.01M593.0 430.5h.01M618.8 421.4h.01M644.3 412.4h.01M326.1 542.9h.01M356.8 531.9h.01M386.9 521.1h.01M416.5 510.5h.01M445.6 500.1h.01M474.3 489.9h.01M502.4 479.8h.01M530.1 469.9h.01M557.4 460.1h.01M584.2 450.5h.01M610.6 441.0h.01M636.6 431.7h.01M662.2 422.6h.01M342.2 555.9h.01M373.1 544.7h.01M403.4 533.7h.01M433.3 522.8h.01M462.6 512.2h.01M491.4 501.7h.01M519.8 491.4h.01M547.7 481.3h.01M575.1 471.3h.01M602.1 461.5h.01M628.7 451.8h.01M654.8 442.3h.01M680.6 433.0h.01M358.7 569.2h.01M389.8 557.8h.01M420.4 546.5h.01M450.4 535.4h.01M480.0 524.5h.01M509.0 513.8h.01M537.6 503.3h.01M565.6 492.9h.01M593.3 482.7h.01M620.4 472.7h.01M647.2 462.9h.01M673.4 453.2h.01M699.3 443.6h.01M375.6 582.9h.01M407.0 571.2h.01M437.8 559.6h.01M468.0 548.3h.01M497.8 537.2h.01M527.0 526.2h.01M555.8 515.5h.01M584.0 504.9h.01M611.8 494.5h.01M639.2 484.2h.01M666.1 474.2h.01M692.5 464.3h.01M718.5 454.5h.01M392.9 596.9h.01M424.5 584.9h.01M455.6 573.1h.01M486.1 561.5h.01M516.1 550.1h.01M545.5 538.9h.01M574.4 527.9h.01M602.9 517.1h.01M630.9 506.5h.01M658.4 496.0h.01M685.4 485.8h.01M712.0 475.6h.01M738.2 465.7h.01M410.7 611.3h.01M442.6 599.0h.01M473.9 586.9h.01M504.6 575.1h.01M534.8 563.4h.01M564.4 552.0h.01M593.6 540.7h.01M622.2 529.7h.01M650.3 518.8h.01M678.0 508.1h.01M705.2 497.6h.01M732.0 487.3h.01M758.3 477.1h.01M429.0 626.1h.01M461.1 613.5h.01M492.6 601.1h.01M523.6 589.0h.01M554.0 577.1h.01M583.8 565.3h.01M613.2 553.8h.01M642.0 542.5h.01M670.3 531.4h.01M698.1 520.5h.01M725.5 509.7h.01M752.4 499.2h.01M778.9 488.8h.01M447.8 641.3h.01M480.1 628.4h.01M511.9 615.7h.01M543.1 603.3h.01M573.7 591.1h.01M603.7 579.1h.01M633.3 567.3h.01M662.3 555.7h.01M690.8 544.3h.01M718.8 533.2h.01M746.3 522.2h.01M773.4 511.4h.01M799.9 500.8h.01M467.0 656.9h.01M499.7 643.6h.01M531.7 630.7h.01M563.1 617.9h.01M593.9 605.4h.01M624.2 593.1h.01M653.9 581.1h.01M683.1 569.2h.01M711.8 557.6h.01M739.9 546.2h.01M767.6 534.9h.01M794.8 523.9h.01M821.5 513.1h.01M486.8 672.9h.01M519.7 659.3h.01M552.0 646.0h.01M583.6 633.0h.01M614.7 620.1h.01M645.1 607.6h.01M675.1 595.2h.01M704.4 583.1h.01M733.3 571.2h.01M761.6 559.5h.01M789.5 548.0h.01M816.8 536.7h.01M843.7 525.6h.01M507.2 689.4h.01M540.3 675.5h.01M572.8 661.8h.01M604.7 648.4h.01M636.0 635.3h.01M666.7 622.4h.01M696.8 609.7h.01M726.3 597.3h.01M755.4 585.1h.01M783.9 573.2h.01M811.9 561.4h.01M839.4 549.9h.01M866.4 538.5h.01M528.1 706.3h.01M561.5 692.0h.01M594.3 678.0h.01M626.4 664.3h.01M657.9 650.8h.01M688.8 637.6h.01M719.1 624.7h.01M748.8 611.9h.01M778.0 599.5h.01M806.7 587.2h.01M834.9 575.2h.01M862.5 563.3h.01M889.6 551.7h.01M549.7 723.7h.01M583.3 709.1h.01M616.3 694.7h.01M648.7 680.6h.01M680.4 666.8h.01M711.5 653.3h.01M742.0 640.0h.01M771.9 626.9h.01M801.3 614.2h.01M830.1 601.6h.01M858.4 589.3h.01M886.2 577.2h.01M913.5 565.3h.01" stroke="#e6eeff" stroke-width="2.5" stroke-linecap="round" fill="none"/>
<path d="M255.4 506.2A3.0 3.0 0 0 1 256.3 501.1L601.9 383.6A3.0 3.0 0 0 1 604.3 383.9L928.4 566.7A3.0 3.0 0 0 1 928.1 572.1L542.9 741.5A3.0 3.0 0 0 1 539.8 741.1Z" stroke="#8db2f6" stroke-width=".9" fill="none"/>
<path d="M692.3 611.6L703.4 619.1L675.8 630.7L686.9 638.4M726.3 621.6L737.7 629.2L710.2 641.0L721.6 648.9M760.9 631.7L767.2 635.9L739.8 647.9L746.1 652.2" stroke="#b9cff8" stroke-width=".8" fill="none" stroke-opacity=".8"/>
<path d="M944.7 529.0L944.4 530.1L943.8 531.0L942.9 531.6L548.6 705.6L548.1 705.8L547.5 705.8L547.0 705.8L546.4 705.7L545.9 705.5L545.5 705.2L249.1 460.5L248.4 459.7L248.0 458.7L248.0 460.2L248.4 461.2L249.1 462.0L545.5 706.7L545.9 707.0L546.4 707.2L547.0 707.3L547.5 707.3L548.1 707.3L548.6 707.1L942.9 533.1L943.8 532.5L944.4 531.6L944.7 530.5Z" fill="#585a7c"/>
<path d="M249.1 460.5L248.4 459.7L248.0 458.7L248.0 457.6L248.4 456.6L249.1 455.8L250.0 455.3L602.5 337.1L602.9 337.0L603.3 337.0L603.7 337.0L604.1 337.1L604.5 337.2L604.9 337.4L943.2 526.2L944.0 526.9L944.5 527.9L944.7 529.0L944.4 530.1L943.8 531.0L942.9 531.6L548.6 705.6L548.1 705.8L547.5 705.8L547.0 705.8L546.4 705.7L545.9 705.5L545.5 705.2Z" fill="#809ddb" fill-opacity=".6"/>
<path d="M249.1 460.5L248.4 459.7L248.0 458.7L248.0 457.6L248.4 456.6L249.1 455.8L250.0 455.3L602.5 337.1L602.9 337.0L603.3 337.0L603.7 337.0L604.1 337.1L604.5 337.2L604.9 337.4L943.2 526.2L944.0 526.9L944.5 527.9L944.7 529.0L944.4 530.1L943.8 531.0L942.9 531.6L548.6 705.6L548.1 705.8L547.5 705.8L547.0 705.8L546.4 705.7L545.9 705.5L545.5 705.2Z" fill="none" stroke="#c9d6f3" stroke-opacity=".35" stroke-width="1"/>
<path d="M944.7 484.9L944.5 486.0L943.8 486.9L942.9 487.5L548.6 661.8L548.1 662.0L547.5 662.0L547.0 662.0L546.4 661.9L545.9 661.7L545.5 661.3L249.1 415.9L248.4 415.1L248.0 414.1L248.0 415.6L248.4 416.6L249.1 417.4L545.5 662.8L545.9 663.2L546.4 663.4L547.0 663.5L547.5 663.5L548.1 663.5L548.6 663.3L942.9 489.0L943.8 488.4L944.5 487.5L944.7 486.4Z" fill="#7d7088"/>
<path d="M249.1 415.9L248.4 415.1L248.0 414.1L248.0 413.0L248.4 412.0L249.1 411.2L250.0 410.7L602.5 292.6L602.9 292.5L603.3 292.5L603.7 292.5L604.1 292.6L604.5 292.7L604.9 292.9L943.2 482.1L944.0 482.8L944.6 483.8L944.7 484.9L944.5 486.0L943.8 486.9L942.9 487.5L548.6 661.8L548.1 662.0L547.5 662.0L547.0 662.0L546.4 661.9L545.9 661.7L545.5 661.3Z" fill="url(#l1)" fill-opacity=".9"/>
<g font-family="'Liberation Sans', sans-serif" font-size="17.6" fill="#ee7a2c">
<path d="M15 416.8H274" stroke="#e9853f" stroke-width="1.5"/>
<circle cx="274.3" cy="416.8" r="4.4" fill="#fbe9d8" fill-opacity=".8"/><circle cx="274.3" cy="416.8" r="2.7" fill="#e87d1e"/>
<text x="14.5" y="412.6" textLength="47.9" lengthAdjust="spacingAndGlyphs">ETFE</text>
<path d="M15 461.3H274" stroke="#e9853f" stroke-width="1.5"/>
<circle cx="274.3" cy="461.3" r="4.4" fill="#fbe9d8" fill-opacity=".8"/><circle cx="274.3" cy="461.3" r="2.7" fill="#e87d1e"/>
<text x="14.5" y="454.8" textLength="38.3" lengthAdjust="spacingAndGlyphs">EVA</text>
<path d="M15 505.9H274" stroke="#e9853f" stroke-width="1.5"/>
<circle cx="274.3" cy="505.9" r="4.4" fill="#fbe9d8" fill-opacity=".8"/><circle cx="274.3" cy="505.9" r="2.7" fill="#e87d1e"/>
<text x="14.5" y="497.6" textLength="217.2" lengthAdjust="spacingAndGlyphs">Monocrystalline Solar Cell</text>
<path d="M15 550.5H274" stroke="#e9853f" stroke-width="1.5"/>
<circle cx="274.3" cy="550.5" r="4.4" fill="#fbe9d8" fill-opacity=".8"/><circle cx="274.3" cy="550.5" r="2.7" fill="#e87d1e"/>
<text x="14.5" y="543.9" textLength="38.3" lengthAdjust="spacingAndGlyphs">EVA</text>
<path d="M15 595.0H274" stroke="#e9853f" stroke-width="1.5"/>
<circle cx="274.3" cy="595.0" r="4.4" fill="#fbe9d8" fill-opacity=".8"/><circle cx="274.3" cy="595.0" r="2.7" fill="#e87d1e"/>
<text x="14.5" y="586.8" textLength="185.3" lengthAdjust="spacingAndGlyphs">PCB Fiberglass Board</text>
<path d="M15 639.7H274" stroke="#e9853f" stroke-width="1.5"/>
<circle cx="274.3" cy="639.7" r="4.4" fill="#fbe9d8" fill-opacity=".8"/><circle cx="274.3" cy="639.7" r="2.7" fill="#e87d1e"/>
<text x="14.5" y="633.9" textLength="146.8" lengthAdjust="spacingAndGlyphs">Polyester Canvas</text>
</g>
<g font-family="'Liberation Sans', sans-serif" font-weight="700" font-size="44.5" fill="#fb6a08" stroke="#fb6a08" stroke-width="1.6" stroke-linejoin="round">
<text y="66.3"> <tspan x="27.8" textLength="96.5" lengthAdjust="spacingAndGlyphs">25%</tspan> <tspan x="147.1" textLength="264.7" lengthAdjust="spacingAndGlyphs">Unmatched</tspan> <tspan x="434.6" textLength="259.2" lengthAdjust="spacingAndGlyphs">Conversion</tspan> <tspan x="717.3" textLength="98.0" lengthAdjust="spacingAndGlyphs">Rate</tspan> <tspan x="838.5" textLength="94.4" lengthAdjust="spacingAndGlyphs">with</tspan></text>
<text y="126.6"> <tspan x="56.3" textLength="65.5" lengthAdjust="spacingAndGlyphs">A+</tspan> <tspan x="145.8" textLength="374.6" lengthAdjust="spacingAndGlyphs">Monocrystalline</tspan> <tspan x="544.5" textLength="113.5" lengthAdjust="spacingAndGlyphs">16BB</tspan> <tspan x="679.5" textLength="120.9" lengthAdjust="spacingAndGlyphs">Solar</tspan> <tspan x="820.8" textLength="82.9" lengthAdjust="spacingAndGlyphs">Cell</tspan></text>
</g>
<rect x="185.2" y="154" width="233.1" height="127.7" rx="5" fill="#dbe7f8" fill-opacity=".45" stroke="#c9733f" stroke-width="1.2" stroke-dasharray="4.4 2.8"/>
<rect x="210.0" y="175.3" width="49.2" height="90.2" rx="4.5" fill="#e2eaf8" fill-opacity=".45" stroke="url(#ob)" stroke-width="4.4"/>
<path d="M225.8 174.5v-3.2q0-2.6 2.6-2.6h12.3q2.6 0 2.6 2.6v3.2z" fill="url(#ob)"/>
<rect x="216.7" y="216.1" width="35.8" height="41.9" fill="url(#of)"/>
<path d="M238.4 181.7l-8.6 15.2h5.4l-2.6 12 9.2-16h-5.6z" fill="url(#ob)"/>
<text x="278.6" y="203.0" font-family="'Liberation Sans', sans-serif" font-weight="700" font-size="46" fill="#f8660c" stroke="#f8660c" stroke-width="2.6" stroke-linejoin="miter" textLength="116.2" lengthAdjust="spacingAndGlyphs">25%</text>

<g font-family="'Liberation Sans', sans-serif" font-size="18.3" fill="#ef7a2e">
<text x="278" y="249.2" textLength="116" lengthAdjust="spacingAndGlyphs">Monocrystalline</text>
<text x="278" y="268.4" textLength="86.5" lengthAdjust="spacingAndGlyphs">Solar Panel</text>
</g>
<rect x="541.7" y="154.4" width="233" height="127.3" rx="5" fill="none" stroke="#8b92a0" stroke-width="1.2" stroke-dasharray="4.4 2.8"/>
<rect x="567.1" y="175.3" width="49.2" height="90.2" rx="4.5" fill="#e2eaf8" fill-opacity=".45" stroke="#9b9b9c" stroke-width="4.4"/>
<path d="M582.9 174.5v-3.2q0-2.6 2.6-2.6h12.3q2.6 0 2.6 2.6v3.2z" fill="#9b9b9c"/>
<rect x="573.8" y="234.0" width="35.8" height="24.0" fill="#a1a1a2"/>
<path d="M595.5 181.7l-8.6 15.2h5.4l-2.6 12 9.2-16h-5.6z" fill="#9b9b9c"/>
<text x="635.3" y="202.6" font-family="'Liberation Sans', sans-serif" font-weight="700" font-size="46" fill="#737373" stroke="#737373" stroke-width="2.6" stroke-linejoin="miter" textLength="116.2" lengthAdjust="spacingAndGlyphs">23%</text>

<g font-family="'Liberation Sans', sans-serif" font-size="18.3" fill="#85878c">
<text x="634.7" y="229.8" textLength="41" lengthAdjust="spacingAndGlyphs">Other</text>
<text x="634.7" y="249.2" textLength="116" lengthAdjust="spacingAndGlyphs">Monocrystalline</text>
<text x="634.7" y="268.4" textLength="86.5" lengthAdjust="spacingAndGlyphs">Solar Panel</text>
</g>
</svg>
</body></html>
